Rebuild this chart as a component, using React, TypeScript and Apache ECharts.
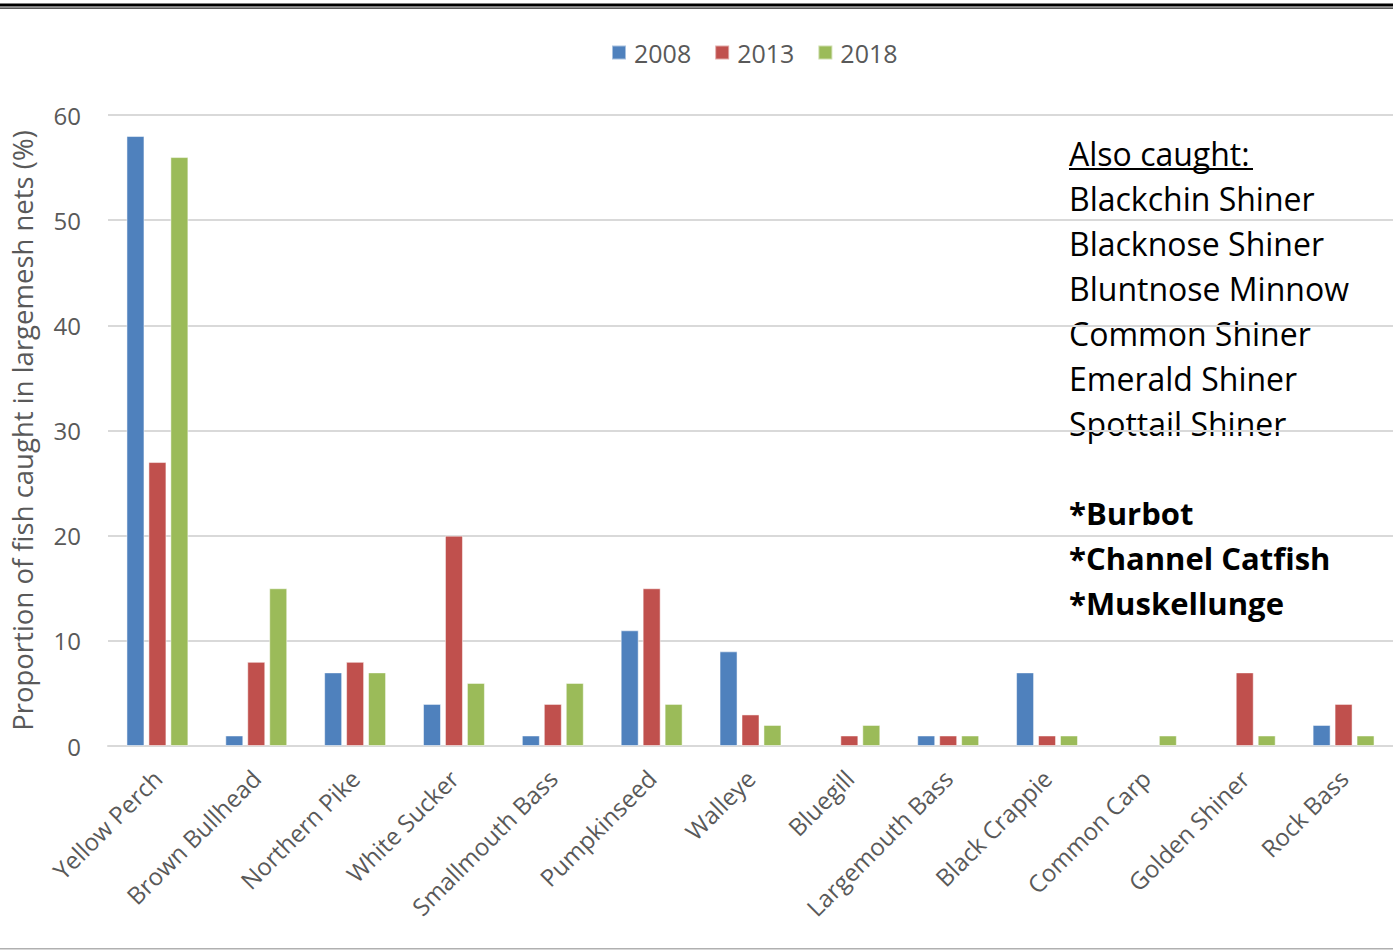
import React, { useEffect, useRef } from "react";
import * as echarts from "echarts";

const categories = [
  "Yellow Perch",
  "Brown Bullhead",
  "Northern Pike",
  "White Sucker",
  "Smallmouth Bass",
  "Pumpkinseed",
  "Walleye",
  "Bluegill",
  "Largemouth Bass",
  "Black Crappie",
  "Common Carp",
  "Golden Shiner",
  "Rock Bass",
];
const series2008 = [58, 1, 7, 4, 1, 11, 9, null, 1, 7, null, null, 2];
const series2013 = [27, 8, 8, 20, 4, 15, 3, 1, 1, 1, null, 7, 4];
const series2018 = [56, 15, 7, 6, 6, 4, 2, 2, 1, 1, 1, 1, 1];
const seriesNames = ["2008", "2013", "2018"];
const colors = ["#4f81bd", "#c0504d", "#9bbb59"];
const alsoCaught = [
  "Blackchin Shiner",
  "Blacknose Shiner",
  "Bluntnose Minnow",
  "Common Shiner",
  "Emerald Shiner",
  "Spottail Shiner",
];
const boldCaught = ["*Burbot", "*Channel Catfish", "*Muskellunge"];

const FONT = "'Open Sans', 'Noto Sans', sans-serif";

export default function App() {
  const ref = useRef<HTMLDivElement>(null);
  useEffect(() => {
    document.body.style.margin = "0";
    const chart = echarts.init(ref.current!, null, { renderer: "svg" });
    const data = [series2008, series2013, series2018];
    const textX = 1069;
    const graphics: any[] = [
      { type: "rect", shape: { x: 0, y: 3.5, width: 1393, height: 3 }, style: { fill: "#000" } },
      { type: "rect", shape: { x: 0, y: 7.5, width: 1393, height: 1.2 }, style: { fill: "#222" } },
      { type: "rect", shape: { x: 0, y: 948, width: 1393, height: 1.5 }, style: { fill: "#b0b0b0" } },
      {
        type: "text",
        x: textX,
        y: 153,
        style: { text: "Also caught:", font: `32px ${FONT}`, fill: "#000", verticalAlign: "middle" },
      },
      { type: "line", shape: { x1: textX, y1: 169, x2: 1253, y2: 169 }, style: { stroke: "#000", lineWidth: 2 } },
    ];
    alsoCaught.forEach((t, i) => {
      graphics.push({
        type: "text",
        x: textX,
        y: 198 + i * 45,
        style: { text: t, font: `32px ${FONT}`, fill: "#000", verticalAlign: "middle" },
      });
    });
    boldCaught.forEach((t, i) => {
      graphics.push({
        type: "text",
        x: textX,
        y: 513 + i * 45,
        style: { text: t, font: `bold 31px ${FONT}`, fill: "#000", verticalAlign: "middle" },
      });
    });
    chart.setOption({
      animation: false,
      color: colors,
      textStyle: { fontFamily: FONT },
      legend: {
        left: 606,
        top: 35,
        itemWidth: 14,
        itemHeight: 14,
        itemGap: 23,
        icon: "rect",
        textStyle: { fontSize: 25, color: "#595959", fontFamily: FONT, padding: [0, 0, 0, 3] },
        data: seriesNames,
      },
      grid: { left: 105, right: -9, top: 115, bottom: 204, containLabel: false },
      xAxis: {
        type: "category",
        data: categories,
        axisLine: { lineStyle: { color: "#d9d9d9", width: 2 } },
        axisTick: { show: false },
        axisLabel: { rotate: 45, fontSize: 24, color: "#595959", margin: 28, interval: 0, fontFamily: FONT },
      },
      yAxis: {
        type: "value",
        min: 0,
        max: 60,
        interval: 10,
        name: "Proportion of fish caught in largemesh nets (%)",
        nameLocation: "middle",
        nameGap: 72,
        nameTextStyle: { fontSize: 27.5, color: "#595959", fontFamily: FONT },
        axisLine: { show: false },
        axisTick: { show: false },
        axisLabel: { fontSize: 24, color: "#595959", margin: 27, fontFamily: FONT },
        splitLine: { lineStyle: { color: "#d9d9d9", width: 2 } },
      },
      series: seriesNames.map((n, i) => ({
        name: n,
        type: "bar",
        data: data[i],
        barWidth: 18,
        barGap: "22%",
        itemStyle: { color: colors[i], borderColor: "rgba(255,255,255,0.5)", borderWidth: 1 },
      })),
      graphic: graphics,
    });
    return () => chart.dispose();
  }, []);
  return <div ref={ref} style={{ position: "absolute", left: 0, top: 0, width: 1393, height: 950 }} />;
}
